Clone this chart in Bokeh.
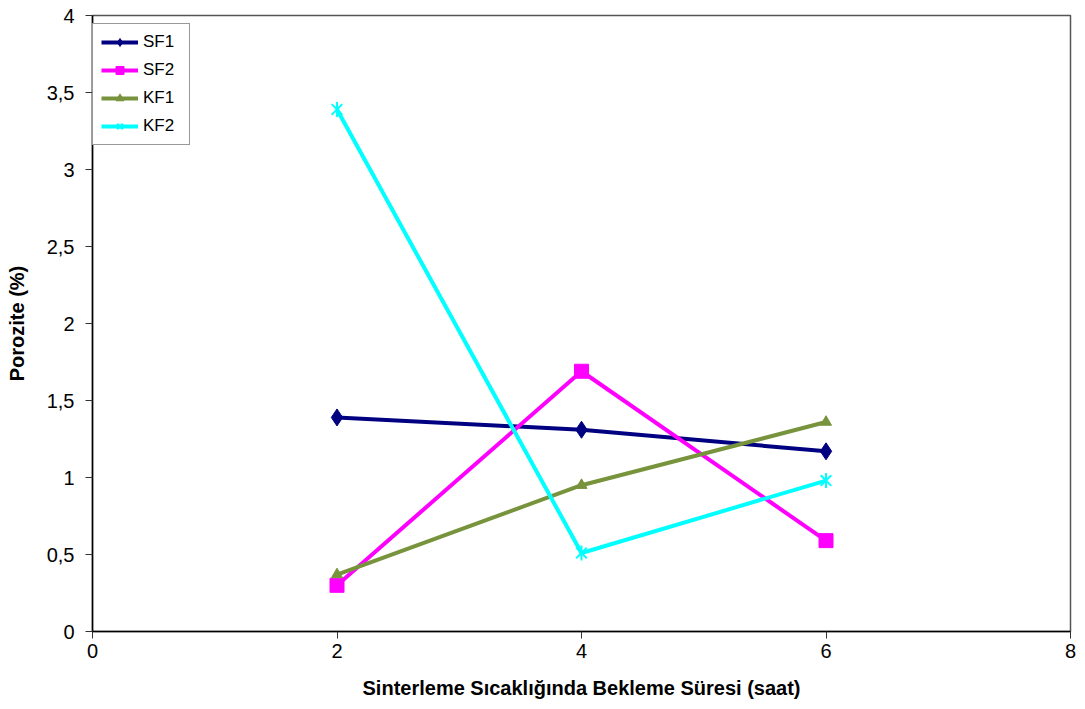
import math
from bokeh.plotting import figure
from bokeh.models import FixedTicker, Range1d, Legend
from bokeh.embed import file_html
from bokeh.resources import INLINE

# Holding time at sintering temperature (hours)
hours = [2, 4, 6]

# Porosity (%) for each sample series
sf1 = [1.39, 1.31, 1.17]
sf2 = [0.30, 1.69, 0.59]
kf1 = [0.37, 0.95, 1.36]
kf2 = [3.39, 0.51, 0.98]

x_ticks = [0, 2, 4, 6, 8]
y_ticks = [0, 0.5, 1, 1.5, 2, 2.5, 3, 3.5, 4]
y_tick_labels = ["0", "0,5", "1", "1,5", "2", "2,5", "3", "3,5", "4"]

FONT = "Liberation Sans"

p = figure(width=1085, height=709, output_backend="svg", toolbar_location=None,
           x_range=Range1d(0, 8), y_range=Range1d(0, 4),
           min_border_left=92, min_border_right=15, min_border_top=15, min_border_bottom=78)
p.xgrid.visible = False
p.ygrid.visible = False
p.outline_line_color = "#555555"
p.outline_line_width = 1.5
p.background_fill_color = "white"
p.border_fill_color = "white"

for ax in (p.xaxis[0], p.yaxis[0]):
    ax.axis_line_color = "black"
    ax.axis_line_width = 1.5
    ax.major_tick_line_color = "#333333"
    ax.major_tick_in = 0
    ax.major_tick_out = 7
    ax.minor_tick_line_color = None
    ax.major_label_text_font = FONT
    ax.major_label_text_font_size = "20px"
    ax.major_label_text_color = "black"
    ax.axis_label_text_font = FONT
    ax.axis_label_text_font_size = "20px"
    ax.axis_label_text_font_style = "bold"
    ax.axis_label_text_color = "black"

p.xaxis.ticker = FixedTicker(ticks=x_ticks)
p.yaxis.ticker = FixedTicker(ticks=y_ticks)
p.yaxis.major_label_overrides = {t: l for t, l in zip(y_ticks, y_tick_labels)}
p.xaxis.axis_label = "Sinterleme Sıcaklığında Bekleme Süresi (saat)"
p.yaxis.axis_label = "Porozite (%)"
p.xaxis.major_label_standoff = 5
p.yaxis.major_label_standoff = 11
p.xaxis.axis_label_standoff = 16
p.yaxis.axis_label_standoff = 16

series = [
    ("SF1", sf1, "#000080", ["diamond"], 17),
    ("SF2", sf2, "#FF00FF", ["square"], 14),
    ("KF1", kf1, "#77933C", ["triangle"], 11),
    ("KF2", kf2, "#00FFFF", ["x", "dash"], 15),
]

items = []
for name, vals, color, markers, size in series:
    renderers = [p.line(hours, vals, line_color=color, line_width=4)]
    for m in markers:
        star_part = m in ("x", "dash")
        renderers.append(p.scatter(hours, vals, marker=m, size=size,
                                   angle=math.pi / 2 if m == "dash" else 0,
                                   fill_color=color, line_color=color,
                                   line_width=2 if star_part else 1))
    items.append((name, renderers))

legend = Legend(items=items, location=(0, 486), margin=0, padding=8,
                spacing=8, label_height=20, glyph_height=20, glyph_width=37,
                label_width=38, label_standoff=5,
                label_text_font=FONT, label_text_font_size="17px",
                label_text_color="black",
                border_line_color="#333333", border_line_width=1.2,
                background_fill_color="white", background_fill_alpha=1)
p.add_layout(legend)

open("out.html", "w").write(file_html(p, INLINE))
